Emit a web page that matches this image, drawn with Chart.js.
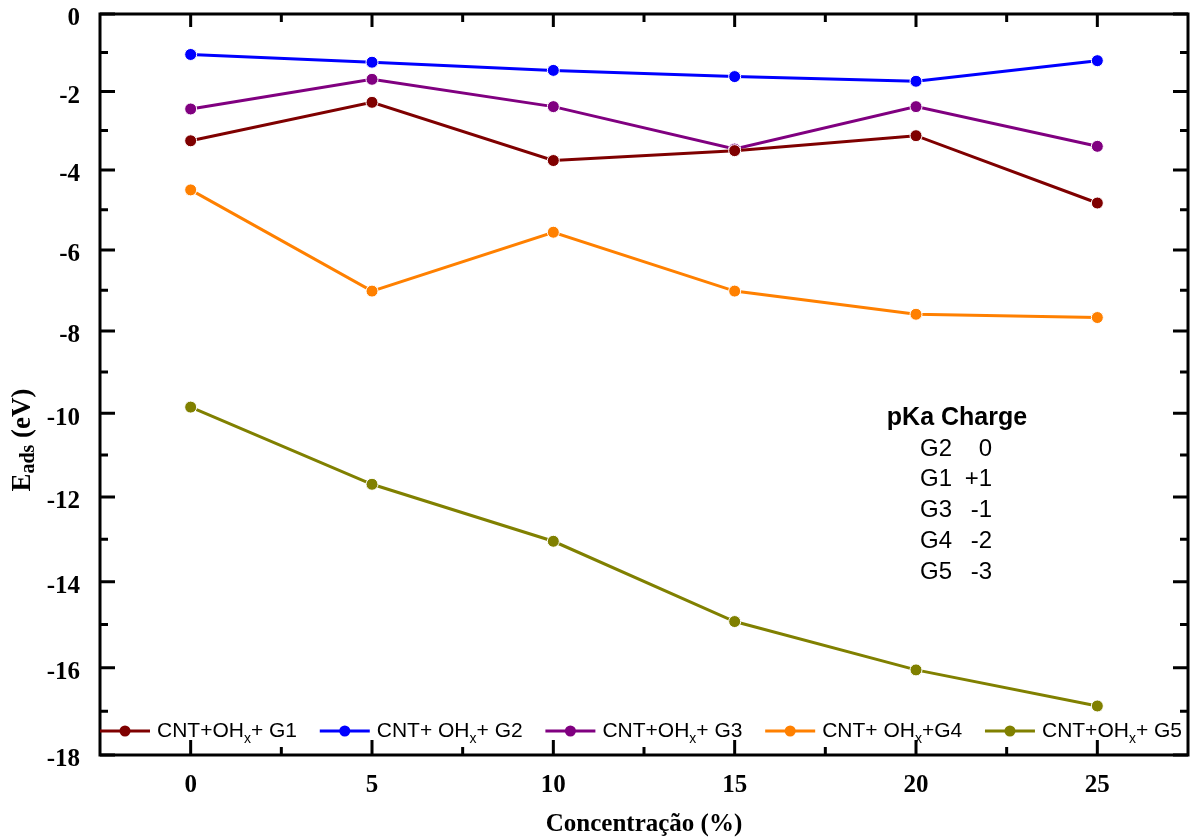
<!DOCTYPE html>
<html>
<head>
<meta charset="utf-8">
<title>Eads vs Concentração</title>
<script src="https://cdn.jsdelivr.net/npm/chart.js@4.4.0/dist/chart.umd.min.js"></script>
<style>
  html, body { margin: 0; padding: 0; background: #fff; }
  #wrap { width: 1195px; height: 837px; }
</style>
</head>
<body>
<div id="wrap"><canvas id="eadsChart" width="1195" height="837"></canvas></div>
<script>
// Concentração (%) on x, Eads (eV) on y
const concentrations = [0, 5, 10, 15, 20, 25];
const g1 = [-3.26, -2.28, -3.76, -3.51, -3.13, -4.83];
const g2 = [-1.05, -1.25, -1.46, -1.62, -1.74, -1.21];
const g3 = [-2.45, -1.69, -2.39, -3.47, -2.39, -3.40];
const g4 = [-4.50, -7.02, -5.56, -7.02, -7.59, -7.67];
const g5 = [-9.85, -11.70, -13.05, -14.93, -16.05, -16.88];

// legend labels split as [before subscript, subscript, after]
const labelG1 = ['CNT+OH', 'x', '+ G1'];
const labelG2 = ['CNT+ OH', 'x', '+ G2'];
const labelG3 = ['CNT+OH', 'x', '+ G3'];
const labelG4 = ['CNT+ OH', 'x', '+G4'];
const labelG5 = ['CNT+OH', 'x', '+ G5'];

// pKa charge table
const pkaGroups = ['G2', 'G1', 'G3', 'G4', 'G5'];
const pkaCharges = ['0', '+1', '-1', '-2', '-3'];

const SERIF = "'Liberation Serif', 'Times New Roman', serif";
const SANS = "'Liberation Sans', Arial, sans-serif";

// The original figure's y axis is slightly stretched towards the bottom
// (tick gaps grow from ~38px to ~44px), so use a gently warped linear scale.
const WARP_A = 0.9326, WARP_B = 0.0674;
class WarpedLinearScale extends Chart.LinearScale {
    getPixelForValue(value) {
        if (value === null || isNaN(value)) return NaN;
        const t = (this.max - value) / (this.max - this.min);
        return this.top + this.height * (WARP_A * t + WARP_B * t * t);
    }
    getValueForPixel(pixel) {
        const g = (pixel - this.top) / this.height;
        const t = (-WARP_A + Math.sqrt(WARP_A * WARP_A + 4 * WARP_B * g)) / (2 * WARP_B);
        return this.max - t * (this.max - this.min);
    }
}
WarpedLinearScale.id = 'warpedLinear';
WarpedLinearScale.defaults = Chart.LinearScale.defaults;
Chart.register(WarpedLinearScale);

function makeSet(parts, values, color) {
    return {
        label: parts.join(''),
        parts: parts,
        data: concentrations.map((c, i) => ({ x: c, y: values[i] })),
        borderColor: color,
        backgroundColor: color,
        borderWidth: 3,
        pointRadius: 6,
        pointHoverRadius: 6,
        pointBorderColor: '#ffffff',
        pointBorderWidth: 1,
        tension: 0
    };
}

// frame box + inward tick marks on all four sides
const frameTicks = {
    id: 'frameTicks',
    afterDatasetsDraw(chart) {
        const { ctx, chartArea: a, scales } = chart;
        ctx.save();
        ctx.strokeStyle = '#000';
        ctx.lineWidth = 3;
        ctx.strokeRect(a.left, a.top, a.right - a.left, a.bottom - a.top);

        const yt = scales.y.ticks.map(t => t.value);
        const ystep = yt[1] - yt[0];
        ctx.beginPath();
        yt.forEach((v, i) => {
            const p = scales.y.getPixelForValue(v);
            ctx.moveTo(a.left, p); ctx.lineTo(a.left + 15, p);
            ctx.moveTo(a.right, p); ctx.lineTo(a.right - 15, p);
            if (i < yt.length - 1) {
                const m = scales.y.getPixelForValue(v + ystep / 2);
                ctx.moveTo(a.left, m); ctx.lineTo(a.left + 8, m);
                ctx.moveTo(a.right, m); ctx.lineTo(a.right - 8, m);
            }
        });
        const xt = scales.x.ticks.map(t => t.value);
        const xstep = xt[1] - xt[0];
        xt.forEach((v, i) => {
            const p = scales.x.getPixelForValue(v);
            ctx.moveTo(p, a.bottom); ctx.lineTo(p, a.bottom - 15);
            ctx.moveTo(p, a.top); ctx.lineTo(p, a.top + 13);
            if (i < xt.length - 1) {
                const m = scales.x.getPixelForValue(v + xstep / 2);
                ctx.moveTo(m, a.bottom); ctx.lineTo(m, a.bottom - 8);
                ctx.moveTo(m, a.top); ctx.lineTo(m, a.top + 8);
            }
        });
        ctx.stroke();
        ctx.restore();
    }
};

// axis titles, legend row and the pKa table
const extras = {
    id: 'extras',
    afterDraw(chart) {
        const { ctx, chartArea: a } = chart;
        ctx.save();
        ctx.fillStyle = '#000';

        // x title
        ctx.font = 'bold 25px ' + SERIF;
        ctx.textAlign = 'center';
        ctx.textBaseline = 'middle';
        ctx.fillText('Concentração (%)', (a.left + a.right) / 2, 825);

        // y title with subscript
        ctx.translate(23, 440);
        ctx.rotate(-Math.PI / 2);
        ctx.textAlign = 'left';
        const big = 'bold 27px ' + SERIF, small = 'bold 20px ' + SERIF;
        ctx.font = big; const wE = ctx.measureText('E').width;
        const wT = ctx.measureText(' (eV)').width;
        ctx.font = small; const wS = ctx.measureText('ads').width;
        let x0 = -(wE + wS + wT) / 2;
        ctx.font = big; ctx.fillText('E', x0, 0);
        ctx.font = small; ctx.fillText('ads', x0 + wE, 6);
        ctx.font = big; ctx.fillText(' (eV)', x0 + wE + wS, 0);
        ctx.setTransform(1, 0, 0, 1, 0, 0);

        // legend inside the plot, bottom row
        const ly = a.bottom - 24;
        const fBig = '21px ' + SANS, fSub = '14px ' + SANS;
        const sets = chart.data.datasets;
        const widths = sets.map(ds => {
            ctx.font = fBig;
            let w = ctx.measureText(ds.parts[0]).width + ctx.measureText(ds.parts[2]).width;
            ctx.font = fSub;
            return w + ctx.measureText(ds.parts[1]).width;
        });
        const total = widths.reduce((s, w) => s + w + 57, 0);
        const gap = (a.right - 6 - a.left - total) / (sets.length - 1);
        let lx = a.left;
        sets.forEach((ds, i) => {
            ctx.strokeStyle = ds.borderColor;
            ctx.lineWidth = 3;
            ctx.beginPath(); ctx.moveTo(lx, ly); ctx.lineTo(lx + 50, ly); ctx.stroke();
            ctx.fillStyle = ds.borderColor;
            ctx.beginPath(); ctx.arc(lx + 25, ly, 5.5, 0, Math.PI * 2); ctx.fill();
            ctx.fillStyle = '#000';
            ctx.textBaseline = 'middle';
            let tx = lx + 57;
            ctx.font = fBig; ctx.fillText(ds.parts[0], tx, ly);
            tx += ctx.measureText(ds.parts[0]).width;
            ctx.font = fSub; ctx.fillText(ds.parts[1], tx, ly + 8);
            tx += ctx.measureText(ds.parts[1]).width;
            ctx.font = fBig; ctx.fillText(ds.parts[2], tx, ly);
            lx += 57 + widths[i] + gap;
        });

        // pKa table
        ctx.fillStyle = '#000';
        ctx.textBaseline = 'middle';
        ctx.font = 'bold 25px ' + SANS;
        ctx.textAlign = 'center';
        ctx.fillText('pKa Charge', 957, 418);
        ctx.font = '24px ' + SANS;
        pkaGroups.forEach((g, i) => {
            const y = 449 + i * 30.8;
            ctx.textAlign = 'left';
            ctx.fillText(g, 920, y);
            ctx.textAlign = 'right';
            ctx.fillText(pkaCharges[i], 992, y);
        });
        ctx.restore();
    }
};

function noPad(s) {
    s.paddingTop = 0; s.paddingBottom = 0; s.paddingLeft = 0; s.paddingRight = 0;
}

new Chart(document.getElementById('eadsChart'), {
    type: 'line',
    data: {
        datasets: [
            makeSet(labelG1, g1, '#7f0000'),
            makeSet(labelG2, g2, '#0000ff'),
            makeSet(labelG3, g3, '#800080'),
            makeSet(labelG4, g4, '#ff8000'),
            makeSet(labelG5, g5, '#808000')
        ]
    },
    options: {
        responsive: false,
        animation: false,
        layout: { padding: { top: 14, right: 7, left: 0, bottom: 0 } },
        plugins: {
            legend: { display: false },
            title: { display: false },
            tooltip: { enabled: false }
        },
        scales: {
            x: {
                type: 'linear',
                min: -2.5,
                max: 27.5,
                afterBuildTicks: s => { s.ticks = concentrations.map(v => ({ value: v })); },
                afterFit: s => { s.height = 82; noPad(s); },
                grid: { display: false, drawTicks: false },
                border: { display: false },
                ticks: {
                    color: '#000',
                    padding: 16,
                    font: { family: SERIF, size: 25, weight: 'bold' }
                }
            },
            y: {
                type: 'warpedLinear',
                min: -18,
                max: 0,
                afterFit: s => { s.width = 100; noPad(s); },
                grid: { display: false, drawTicks: false },
                border: { display: false },
                ticks: {
                    stepSize: 2,
                    color: '#000',
                    padding: 20,
                    labelOffset: 5,
                    font: { family: SERIF, size: 25, weight: 'bold' }
                }
            }
        }
    },
    plugins: [frameTicks, extras]
});
</script>
</body>
</html>
